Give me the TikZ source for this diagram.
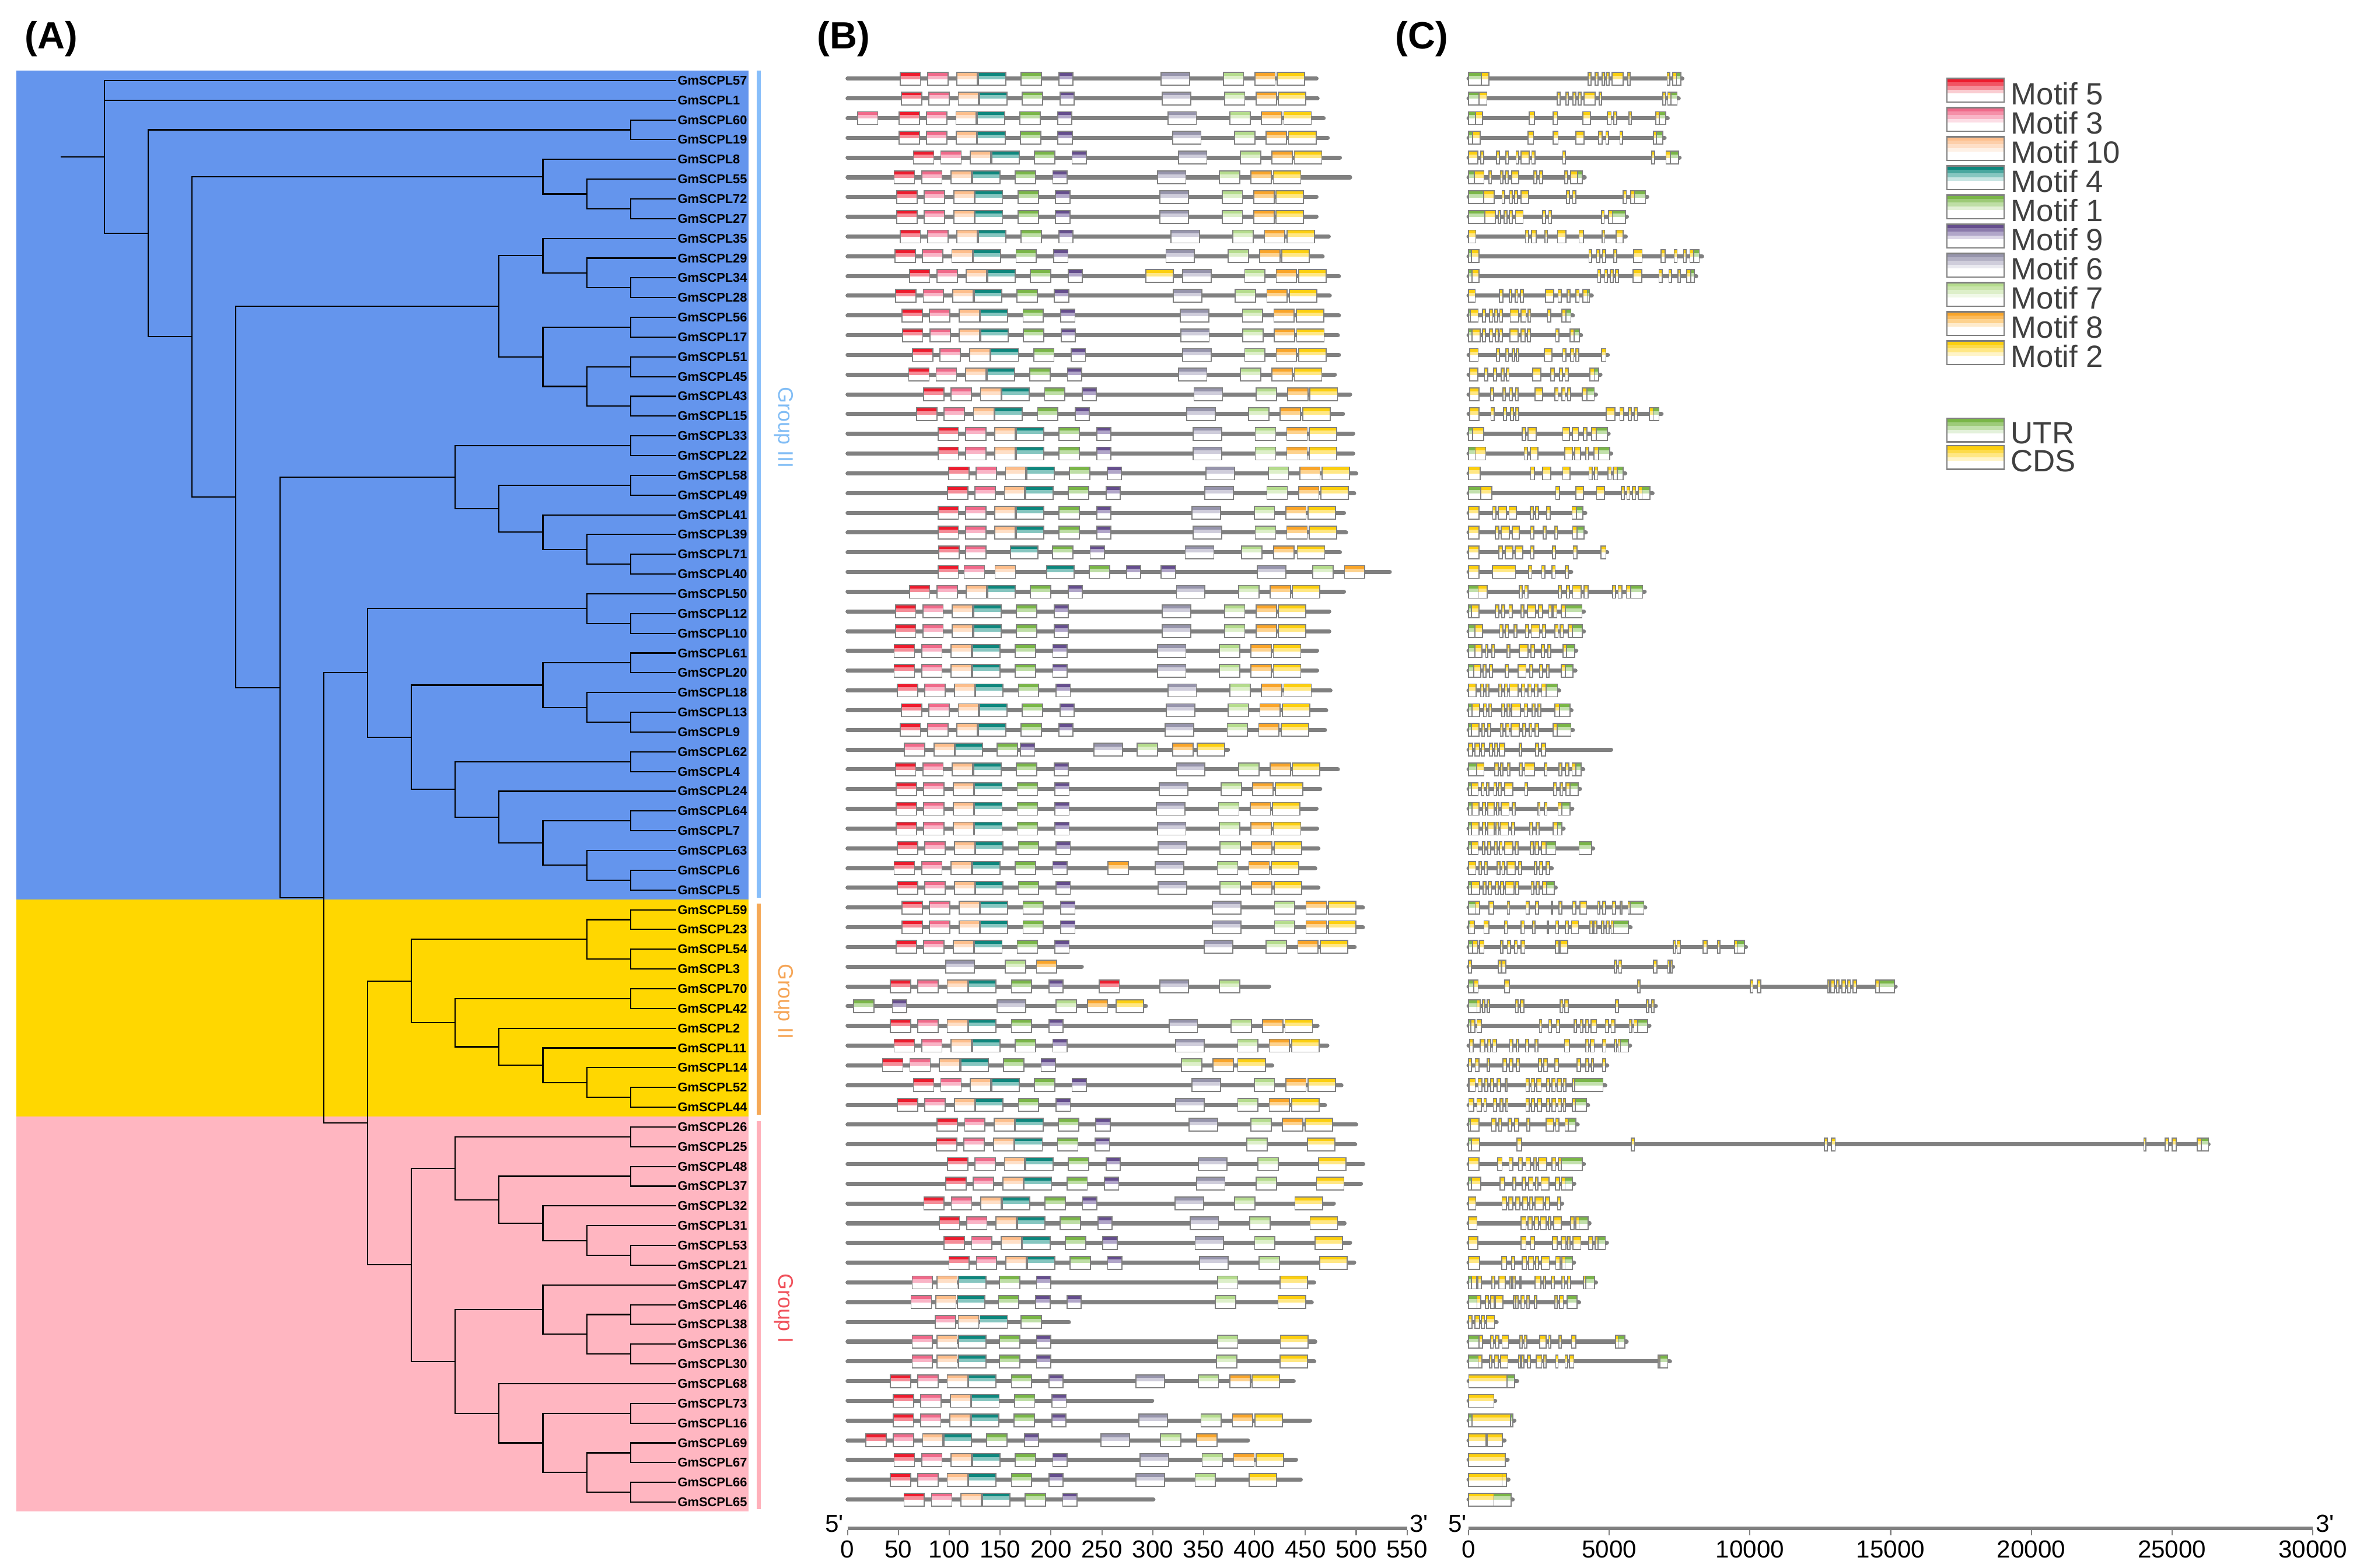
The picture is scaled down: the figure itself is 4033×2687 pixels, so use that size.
\documentclass[tikz,border=0pt]{standalone}
\usepackage{fontspec}
\setmainfont{Liberation Sans}
\setsansfont{Liberation Sans}
\usetikzlibrary{positioning}

\definecolor{cladeblue}{HTML}{6495ED}
\definecolor{cladegold}{HTML}{FFD700}
\definecolor{cladepink}{HTML}{FFB6C1}
\definecolor{barIII}{HTML}{87BEFA}
\definecolor{barII}{HTML}{F5A957}
\definecolor{barI}{HTML}{FFB0BA}
\definecolor{txtIII}{HTML}{80BCF5}
\definecolor{txtII}{HTML}{F5A455}
\definecolor{txtI}{HTML}{F0505A}
\definecolor{strand}{HTML}{808080}
\definecolor{legtext}{HTML}{404040}
% motif colours: a = top band, b = middle band
\definecolor{m5a}{HTML}{ED1C2E}\definecolor{m5b}{HTML}{F58D98}
\definecolor{m3a}{HTML}{F06A8A}\definecolor{m3b}{HTML}{F9B4C6}
\definecolor{m10a}{HTML}{FDBE8C}\definecolor{m10b}{HTML}{FEDFC7}
\definecolor{m4a}{HTML}{0E877D}\definecolor{m4b}{HTML}{86C6C0}
\definecolor{m1a}{HTML}{7AB648}\definecolor{m1b}{HTML}{BEDEA6}
\definecolor{m9a}{HTML}{654E8D}\definecolor{m9b}{HTML}{B1A6C9}
\definecolor{m6a}{HTML}{9795AC}\definecolor{m6b}{HTML}{CFCDDB}
\definecolor{m7a}{HTML}{B5DC8D}\definecolor{m7b}{HTML}{DDEFC9}
\definecolor{m8a}{HTML}{F9A52A}\definecolor{m8b}{HTML}{FDD28E}
\definecolor{m2a}{HTML}{FCCF10}\definecolor{m2b}{HTML}{FFE784}
\definecolor{ua}{HTML}{7AB648}\definecolor{ub}{HTML}{C2E0AC}
\definecolor{ca}{HTML}{FCCF10}\definecolor{cb}{HTML}{FFE784}

\pgfkeys{/mw/.cd,5/.initial=20,3/.initial=20,10/.initial=20,4/.initial=27,1/.initial=20,
  9/.initial=14,6/.initial=28,7/.initial=20,8/.initial=20,2/.initial=27}

\tikzset{
  branch/.style={line width=0.6pt},
  gene/.style={anchor=west,inner sep=0.6pt,font=\fontsize{6.2}{7}\selectfont\bfseries},
  pline/.style={strand,line width=2pt,line cap=round},
  mframe/.style={strand,line width=0.5pt},
  axline/.style={strand,line width=1.7pt},
  tick/.style={strand,line width=0.6pt},
  axlab/.style={font=\fontsize{12}{14}\selectfont},
  panel/.style={font=\fontsize{18.5}{20}\selectfont\bfseries},
  legtxt/.style={anchor=west,inner sep=0pt,text=legtext,font=\fontsize{15}{17}\selectfont},
  grp/.style={rotate=-90,font=\fontsize{10.2}{12}\selectfont}
}

% one motif box: start, motif number
\newcommand{\mot}[2]{%
  \fill[white] (#1,\ry-11) rectangle ++(\pgfkeysvalueof{/mw/#2},22);
  \fill[m#2a] (#1,\ry-11) rectangle ++(\pgfkeysvalueof{/mw/#2},5.7);
  \fill[m#2b] (#1,\ry-5.3) rectangle ++(\pgfkeysvalueof{/mw/#2},6);
  \draw[mframe] (#1,\ry-11) rectangle ++(\pgfkeysvalueof{/mw/#2},22);}
\newcommand{\nblk}[1]{\mot{#1}{5}\mot{#1+27}{3}\mot{#1+56}{10}\mot{#1+77}{4}\mot{#1+119}{1}\mot{#1+156}{9}}
\newcommand{\cblk}[1]{\mot{#1}{6}\mot{#1+61}{7}\mot{#1+92}{8}\mot{#1+114}{2}}
\newcommand{\dblk}[1]{\mot{#1}{6}\mot{#1+58.5}{7}\mot{#1+118}{2}}
\newcommand{\prot}[3]{\pgfmathsetmacro{\ry}{101+33.83*#1}\draw[pline] (0,\ry) -- (#2,\ry);#3}
% gene structure: row, length (kb), list of type/start/end
\newcommand{\exon}[3]{%
  \fill[white] (#2,\ry-11) rectangle (#3,\ry+11);
  \fill[#1a] (#2,\ry-11) rectangle (#3,\ry-5.3);
  \fill[#1b] (#2,\ry-5.3) rectangle (#3,\ry+0.7);
  \draw[mframe] (#2,\ry-11) rectangle (#3,\ry+11);}
\newcommand{\gene}[3]{\pgfmathsetmacro{\ry}{101+33.83*#1}\draw[pline] (0,\ry) -- (#2,\ry);
  \foreach \typ/\ea/\eb in {#3}{\exon{\typ}{\ea}{\eb}}}
\newcommand{\legbox}[2]{\pgfmathsetmacro{\ly}{#1}
  \fill[white] (3337,\ly) rectangle (3435,\ly+40.6);
  \fill[#2a] (3337,\ly) rectangle (3435,\ly+6.5);
  \fill[#2a!50!#2b] (3337,\ly+6.5) rectangle (3435,\ly+13);
  \fill[#2b] (3337,\ly+13) rectangle (3435,\ly+19.5);
  \fill[#2b!45!white] (3337,\ly+19.5) rectangle (3435,\ly+26);
  \draw[mframe,line width=0.7pt] (3337,\ly) rectangle (3435,\ly+40.6);}

\begin{document}
\begin{tikzpicture}[x=0.01cm,y=-0.01cm]
\useasboundingbox (0,0) rectangle (4033,2687);

\node[panel] (pA) at (88,67) {(A)};
\node[panel] (pB) at (1446,67) {(B)};
\node[panel] (pC) at (2437,67) {(C)};

% clade backgrounds and group bars
\fill[cladeblue] (28,121) rectangle (1283,1541.8);
\fill[cladegold] (28,1541.8) rectangle (1283,1914);
\fill[cladepink] (28,1914) rectangle (1283,2590.5);
\fill[barIII] (1297,121) rectangle (1304,1539);
\fill[barII] (1297,1549) rectangle (1304,1911);
\fill[barI] (1297,1922) rectangle (1304,2587);
\node[grp,text=txtIII] (gIII) at (1343,733) {Group III};
\node[grp,text=txtII] (gII) at (1343,1717) {Group II};
\node[grp,text=txtI] (gI) at (1343,2243) {Group I};

% tree
\begin{scope}[shift={(179,104)},x=0.751cm,y=-0.3383cm]
\foreach \g [count=\i] in {57,1,60,19,8,55,72,27,35,29,34,28,56,17,51,45,43,15,33,22,58,49,41,39,71,40,50,12,10,61,20,18,13,9,62,4,24,64,7,63,6,5,59,23,54,3,70,42,2,11,14,52,44,26,25,48,37,32,31,53,21,47,46,38,36,30,68,73,16,69,67,66,65}
  \node[gene] (g\g) at (13.04,\i) {GmSCPL\g};
\foreach \n/\l/\r in {a0/0/4.87,a1/1/8.74,b60/12/3.5,a2/2/13.98,b8/10/5.875,b55/11/6.75,b72/12/7.5,
  a3/3/22.09,b35/9/12.44,c35/10/9.875,c29/11/10.75,c34/12/11.5,c56/10/15,c56b/12/13.5,c51/11/16.5,
  c51b/12/15.5,c43/12/17.5,a4/4/31.75,b33/8/21.09,c33/12/19.5,c58/9/22.69,c58b/12/21.5,c41/10/23.875,
  c39/11/24.75,c71/12/25.5,a5/5/42.4,a6/6/31.0,a7/6/53.8,b50/11/27.75,c12/12/28.5,b61/7/34.27,
  c61/10/31.625,d61/12/30.5,d18/11/32.75,d13/12/33.5,c62/8/36.9,d62/12/35.5,d24/9/38.31,d64/10/39.625,
  e64/12/38.5,e63/11/40.75,e6/12/41.5,b59/7/46.61,c59/11/44.5,d59/12/43.5,d54/12/45.5,c70/8/48.72,
  d70/12/47.5,d2/9/49.94,d11/10/50.875,d14/11/51.75,d52/12/52.5,b26/7/60.98,c26/8/56.09,d26/12/54.5,
  d48/9/57.69,e48/12/56.5,e32/10/58.875,e31/11/59.75,e53/12/60.5,c47/8/65.875,d47/10/63.25,
  e46/11/64.5,f46/12/63.5,f36/12/65.5,d68/9/68.5,e73/10/70,f73/12/68.5,f69/11/71.5,h69/12/70.5,h66/12/72.5}
  \coordinate (\n) at (\l,\r);
\coordinate (stub) at (-1,4.87);
\draw[branch] (stub) -- (a0);
\foreach \p/\kids in {a0/{g57,g1,a1},a1/{b60,a2},b60/{g60,g19},a2/{b8,a3},b8/{g8,b55},b55/{g55,b72},
  b72/{g72,g27},a3/{b35,a4},b35/{c35,c56},c35/{g35,c29},c29/{g29,c34},c34/{g34,g28},c56/{c56b,c51},
  c56b/{g56,g17},c51/{c51b,c43},c51b/{g51,g45},c43/{g43,g15},a4/{b33,a5},b33/{c33,c58},c33/{g33,g22},
  c58/{c58b,c41},c58b/{g58,g49},c41/{g41,c39},c39/{g39,c71},c71/{g71,g40},a5/{a6,a7},a6/{b50,b61},
  b50/{g50,c12},c12/{g12,g10},b61/{c61,c62},c61/{d61,d18},d61/{g61,g20},d18/{g18,d13},d13/{g13,g9},
  c62/{d62,d24},d62/{g62,g4},d24/{g24,d64},d64/{e64,e63},e64/{g64,g7},e63/{g63,e6},e6/{g6,g5},
  a7/{b59,b26},b59/{c59,c70},c59/{d59,d54},d59/{g59,g23},d54/{g54,g3},c70/{d70,d2},d70/{g70,g42},
  d2/{g2,d11},d11/{g11,d14},d14/{g14,d52},d52/{g52,g44},b26/{c26,c47},c26/{d26,d48},d26/{g26,g25},
  d48/{e48,e32},e48/{g48,g37},e32/{g32,e31},e31/{g31,e53},e53/{g53,g21},c47/{d47,d68},d47/{g47,e46},
  e46/{f46,f36},f46/{g46,g38},f36/{g36,g30},d68/{g68,e73},e73/{f73,f69},f73/{g73,g16},f69/{h69,h66},
  h69/{g69,g67},h66/{g66,g65}}
  \foreach \c in \kids \draw[branch] (\p) |- (\c);
\end{scope}

% motifs
\begin{scope}[shift={(1452.7,0)},x=0.017426cm]
\prot{1}{461}{\nblk{51.6}\cblk{308.3}}
\prot{2}{462}{\nblk{52.8}\cblk{309.5}}
\prot{3}{468}{\mot{9.7}{3}\nblk{50.5}\cblk{314.9}}
\prot{4}{472}{\nblk{50.8}\cblk{319.5}}
\prot{5}{484}{\nblk{64.7}\cblk{325.2}}
\prot{6}{494}{\nblk{45.8}\cblk{304.5}}
\prot{7}{461}{\nblk{48.5}\cblk{307.2}}
\prot{8}{461}{\nblk{48.5}\cblk{307.2}}
\prot{9}{473}{\nblk{51.6}\cblk{317.9}}
\prot{10}{467}{\nblk{46.6}\cblk{313}}
\prot{11}{483}{\nblk{60.8}\mot{293.3}{2}\cblk{329.4}}
\prot{12}{474}{\nblk{47.4}\cblk{320.2}}
\prot{13}{483}{\nblk{53.5}\cblk{327.1}}
\prot{14}{482}{\nblk{53.9}\cblk{327.5}}
\prot{15}{483}{\nblk{63.9}\cblk{329.4}}
\prot{16}{479}{\nblk{60.1}\cblk{325.2}}
\prot{17}{494}{\nblk{74.7}\cblk{340.6}}
\prot{18}{487}{\nblk{67.8}\cblk{333.3}}
\prot{19}{497}{\nblk{88.9}\cblk{339.8}}
\prot{20}{497}{\nblk{88.9}\cblk{339.8}}
\prot{21}{500}{\nblk{99.3}\cblk{352.5}}
\prot{22}{498}{\nblk{98.1}\cblk{351.3}}
\prot{23}{488}{\nblk{88.9}\cblk{338.7}}
\prot{24}{490}{\nblk{88.9}\cblk{339.8}}
\prot{25}{484}{\mot{89.7}{5}\mot{116}{3}\mot{160}{4}\mot{201.5}{1}\mot{238.4}{9}\mot{332}{6}\mot{387.5}{7}\mot{419}{8}\mot{442}{2}}
\prot{26}{533}{\mot{88.9}{5}\mot{114.6}{3}\mot{145}{10}\mot{195.7}{4}\mot{237.6}{1}\mot{274.1}{9}\mot{308.3}{9}\mot{402.8}{6}\mot{457.4}{7}\mot{488.5}{8}}
\prot{27}{488}{\nblk{60.8}\cblk{323.3}}
\prot{28}{473.5}{\nblk{47}\cblk{309.5}}
\prot{29}{473.5}{\nblk{47}\cblk{309.5}}
\prot{30}{461.6}{\nblk{45.8}\cblk{304.5}}
\prot{31}{461.6}{\nblk{45.8}\cblk{304.5}}
\prot{32}{474.7}{\nblk{48.9}\cblk{314.9}}
\prot{33}{470.5}{\nblk{52.8}\cblk{313.3}}
\prot{34}{469.3}{\nblk{51.6}\cblk{312.2}}
\prot{35}{374}{\mot{55.8}{3}\mot{85}{10}\mot{105.8}{4}\mot{146.9}{1}\mot{170}{9}\mot{242.2}{6}\mot{284.5}{7}\mot{319.5}{8}\mot{343.7}{2}}
\prot{36}{482}{\nblk{47}\cblk{323.3}}
\prot{37}{464.7}{\nblk{47.8}\cblk{306.4}}
\prot{38}{461}{\nblk{47.8}\cblk{303.7}}
\prot{39}{461.6}{\nblk{47.8}\cblk{304.5}}
\prot{40}{462.8}{\nblk{48.9}\cblk{305.2}}
\prot{41}{459.7}{\nblk{45.8}\mot{256}{8}\cblk{302.5}}
\prot{42}{462.8}{\nblk{48.9}\cblk{305.2}}
\prot{43}{506.6}{\nblk{53.5}\cblk{358.7}}
\prot{44}{506.6}{\nblk{53.5}\cblk{358.7}}
\prot{45}{498.5}{\nblk{47.8}\cblk{350.6}}
\prot{46}{230.3}{\mot{96.6}{6}\mot{155}{7}\mot{185.7}{8}}
\prot{47}{414.4}{\nblk{42}\mot{247.2}{5}\mot{307.2}{6}\mot{365.6}{7}}
\prot{48}{293.3}{\mot{5.9}{1}\mot{44}{9}\mot{147}{6}\mot{205}{7}\mot{235.7}{8}\mot{264.1}{2}}
\prot{49}{462}{\nblk{42}\cblk{316}}
\prot{50}{471.6}{\nblk{45.8}\cblk{322.5}}
\prot{51}{417.4}{\nblk{34.3}\mot{328.3}{7}\mot{359.4}{8}\mot{383.6}{2}}
\prot{52}{485.5}{\nblk{64.7}\cblk{338.7}}
\prot{53}{469.3}{\nblk{48.9}\cblk{322.5}}
\prot{54}{500}{\nblk{88.1}\cblk{335.6}}
\prot{55}{499}{\nblk{87.4}\mot{392.5}{7}\mot{452}{2}}
\prot{56}{507}{\nblk{98.1}\dblk{344.8}}
\prot{57}{504.7}{\nblk{96.6}\dblk{343}}
\prot{58}{478}{\nblk{75}\dblk{321.8}}
\prot{59}{488.5}{\nblk{90}\dblk{336.7}}
\prot{60}{494}{\nblk{95}\dblk{341.7}}
\prot{61}{498}{\nblk{99.6}\dblk{346}}
\prot{62}{458.6}{\mot{63.5}{3}\mot{87.7}{10}\mot{109.2}{4}\mot{149.2}{1}\mot{185.7}{9}\mot{363.6}{7}\mot{425}{2}}
\prot{63}{456.3}{\mot{62.4}{3}\mot{86.6}{10}\mot{108}{4}\mot{148.4}{1}\mot{185}{9}\mot{215.7}{9}\mot{361.7}{7}\mot{423.2}{2}}
\prot{64}{217.6}{\mot{86.2}{3}\mot{108.9}{10}\mot{130}{4}\mot{170.4}{1}}
\prot{65}{459.7}{\mot{63.5}{3}\mot{87.7}{10}\mot{109.2}{4}\mot{149.2}{1}\mot{185.7}{9}\mot{363.6}{7}\mot{425.5}{2}}
\prot{66}{458.8}{\mot{63.5}{3}\mot{87.7}{10}\mot{109.2}{4}\mot{149.2}{1}\mot{185.7}{9}\mot{362.5}{7}\mot{425}{2}}
\prot{67}{438.6}{\nblk{42}\cblk{283.7}}
\prot{68}{299.5}{\nblk{45}}
\prot{69}{454.7}{\nblk{44.7}\cblk{286.4}}
\prot{70}{393.6}{\nblk{17.8}\mot{249.1}{6}\mot{307.5}{7}\mot{343.3}{8}}
\prot{71}{440.9}{\nblk{45.8}\cblk{287.6}}
\prot{72}{445.5}{\nblk{42}\mot{283.7}{6}\mot{341.7}{7}\mot{394.8}{2}}
\prot{73}{300.6}{\nblk{55.5}}
\draw[axline] (0,2620) -- (550,2620);
\foreach \t in {0,50,...,550}{
  \draw[tick] (\t,2623) -- (\t,2632);
  \node[axlab] at (\t,2656) {\t};}
\end{scope}
\node[axlab] (b5) at (1430,2612) {5\textquotesingle};
\node[axlab] (b3) at (2432,2612) {3\textquotesingle};

% gene structures
\begin{scope}[shift={(2517,0)},x=0.482cm]
\gene{1}{7.6}{u/0/0.45,c/0.45/0.72,c/4.25/4.35,c/4.5/4.6,c/4.75/4.83,c/4.9/5.0,c/5.1/5.5,c/5.66/5.74,c/7.06/7.16,c/7.25/7.39,u/7.39/7.55}
\gene{2}{7.47}{u/0/0.37,c/0.37/0.65,c/3.15/3.25,c/3.46/3.55,c/3.71/3.82,c/3.9/4.0,c/4.1/4.5,c/4.64/4.73,c/6.9/7.0,c/7.08/7.2,u/7.2/7.41}
\gene{3}{7.08}{u/0/0.25,c/0.25/0.5,c/2.15/2.34,c/3.0/3.16,c/4.07/4.33,c/4.94/5.07,c/5.17/5.26,c/5.7/5.78,c/6.66/6.78,u/6.78/7.0}
\gene{4}{6.97}{u/0/0.15,c/0.15/0.41,c/2.12/2.31,c/3.0/3.18,c/3.81/4.1,c/4.62/4.75,c/4.88/4.98,c/5.38/5.48,c/6.57/6.68,u/6.68/6.91}
\gene{5}{7.5}{c/0/0.33,c/0.44/0.54,c/1.0/1.1,c/1.33/1.42,c/1.69/1.79,c/1.87/2.15,c/2.25/2.36,c/3.35/3.44,c/6.51/6.61,c/7.02/7.17,u/7.17/7.46}
\gene{6}{4.13}{u/0/0.2,c/0.2/0.55,c/0.72/0.82,c/1.13/1.22,c/1.31/1.41,c/1.53/1.78,c/2.32/2.42,c/2.52/2.63,c/3.42/3.52,c/3.63/3.87,u/3.87/4.05}
\gene{7}{6.35}{u/0/0.54,c/0.54/0.91,c/1.19/1.29,c/1.46/1.56,c/1.64/1.74,c/1.86/2.13,c/3.49/3.59,c/3.7/3.81,c/5.5/5.61,c/5.76/5.9,u/5.9/6.29}
\gene{8}{5.63}{u/0/0.58,c/0.58/0.95,c/1.05/1.14,c/1.27/1.36,c/1.45/1.55,c/1.67/1.94,c/2.64/2.74,c/2.85/2.95,c/4.72/4.82,c/4.98/5.11,u/5.11/5.57}
\gene{9}{5.59}{c/0/0.26,c/2.02/2.13,c/2.24/2.41,c/2.71/2.8,c/3.16/3.46,c/3.93/4.09,c/4.75/4.84,c/5.25/5.5}
\gene{10}{8.3}{u/0/0.11,c/0.11/0.37,c/4.28/4.38,c/4.55/4.66,c/4.76/4.87,c/5.17/5.27,c/5.87/6.17,c/6.84/6.99,c/7.31/7.41,c/7.64/7.74,c/7.87/8.0,u/8.0/8.2}
\gene{11}{8.09}{u/0/0.12,c/0.12/0.37,c/4.59/4.69,c/4.84/4.93,c/5.04/5.14,c/5.23/5.33,c/5.84/6.15,c/6.77/6.89,c/7.12/7.22,c/7.44/7.53,c/7.76/7.9,u/7.9/8.02}
\gene{12}{4.38}{c/0/0.24,c/1.1/1.22,c/1.45/1.53,c/1.66/1.75,c/1.85/1.95,c/2.73/3.03,c/3.18/3.29,c/3.5/3.6,c/3.82/3.93,c/4.06/4.22,u/4.22/4.3}
\gene{13}{3.71}{u/0/0.06,c/0.06/0.34,c/0.49/0.6,c/0.75/0.86,c/0.94/1.03,c/1.11/1.2,c/1.48/1.78,c/1.87/2.04,c/2.12/2.21,c/2.81/2.92,c/3.31/3.46,u/3.46/3.64}
\gene{14}{4.0}{u/0/0.13,c/0.13/0.41,c/0.49/0.6,c/0.75/0.86,c/0.96/1.06,c/1.11/1.2,c/1.47/1.76,c/1.86/2.01,c/2.09/2.19,c/3.1/3.21,c/3.6/3.76,u/3.76/3.94}
\gene{15}{4.95}{c/0.04/0.34,c/1.0/1.1,c/1.33/1.42,c/1.55/1.64,c/1.7/1.79,c/2.69/2.96,c/3.35/3.46,c/3.63/3.74,c/3.82/3.92,c/4.73/4.88}
\gene{16}{4.69}{c/0.04/0.33,c/0.57/0.68,c/0.89/1.0,c/1.16/1.27,c/1.34/1.44,c/2.28/2.57,c/2.93/3.05,c/3.24/3.33,c/3.43/3.54,c/4.31/4.47,u/4.47/4.62}
\gene{17}{4.53}{c/0.04/0.37,c/0.78/0.89,c/1.22/1.31,c/1.46/1.56,c/1.67/1.76,c/2.36/2.64,c/3.07/3.18,c/3.32/3.43,c/3.53/3.63,c/4.05/4.21,u/4.21/4.47}
\gene{18}{6.86}{c/0.04/0.37,c/0.8/0.91,c/1.25/1.35,c/1.5/1.59,c/1.68/1.78,c/4.89/5.2,c/5.38/5.51,c/5.68/5.78,c/5.89/6.0,c/6.43/6.56,u/6.56/6.77}
\gene{19}{4.98}{u/0/0.15,c/0.15/0.54,c/1.91/2.03,c/2.12/2.4,c/3.35/3.59,c/3.69/3.91,c/4.09/4.21,c/4.38/4.54,u/4.54/4.93}
\gene{20}{5.07}{u/0/0.24,c/0.24/0.61,c/1.98/2.1,c/2.19/2.47,c/3.42/3.69,c/3.77/3.98,c/4.16/4.27,c/4.45/4.62,u/4.62/5.01}
\gene{21}{5.57}{c/0/0.41,c/2.21/2.34,c/2.63/2.92,c/3.35/3.61,c/4.28/4.39,c/4.48/4.59,c/4.95/5.07,c/5.14/5.28,u/5.28/5.5}
\gene{22}{6.54}{u/0/0.44,c/0.44/0.83,c/3.1/3.23,c/3.82/4.09,c/4.55/4.83,c/5.43/5.54,c/5.63/5.73,c/5.83/5.94,c/6.03/6.17,u/6.17/6.45}
\gene{23}{4.15}{c/0/0.38,c/0.86/0.97,c/1.06/1.34,c/1.44/1.7,c/2.19/2.3,c/2.38/2.49,c/2.77/2.9,c/3.68/3.83,u/3.83/4.06}
\gene{24}{4.17}{c/0/0.38,c/0.96/1.07,c/1.16/1.45,c/1.55/1.8,c/2.21/2.32,c/2.65/2.76,c/3.07/3.16,c/3.7/3.86,u/3.86/4.1}
\gene{25}{4.93}{c/0/0.37,c/1.08/1.2,c/1.3/1.58,c/1.66/1.92,c/2.21/2.32,c/2.98/3.09,c/3.72/3.85,c/4.7/4.88}
\gene{26}{3.65}{c/0/0.37,c/0.85/1.67,c/2.14/2.25,c/2.6/2.71,c/2.97/3.08,c/3.44/3.55}
\gene{27}{6.26}{u/0/0.34,c/0.34/0.66,c/1.8/1.91,c/2.0/2.12,c/3.2/3.3,c/3.48/3.58,c/3.7/4.0,c/4.1/4.25,c/5.12/5.23,c/5.32/5.45,c/5.61/5.77,u/5.77/6.19}
\gene{28}{4.1}{u/0/0.11,c/0.11/0.37,c/0.96/1.08,c/1.18/1.29,c/1.44/1.55,c/1.86/1.97,c/2.1/2.39,c/2.48/2.63,c/2.85/2.96,c/3.0/3.14,c/3.29/3.44,u/3.44/4.03}
\gene{29}{4.1}{u/0/0.23,c/0.23/0.49,c/1.11/1.22,c/1.31/1.42,c/1.61/1.72,c/2.02/2.13,c/2.23/2.52,c/2.62/2.74,c/3.07/3.18,c/3.26/3.37,c/3.54/3.69,u/3.69/4.04}
\gene{30}{3.83}{u/0/0.23,c/0.23/0.47,c/0.61/0.69,c/0.83/0.92,c/1.36/1.47,c/1.81/2.11,c/2.22/2.35,c/2.59/2.69,c/2.82/2.92,c/3.36/3.49,u/3.49/3.78}
\gene{31}{3.8}{u/0/0.18,c/0.18/0.43,c/0.52/0.62,c/0.75/0.85,c/1.31/1.42,c/1.76/2.04,c/2.17/2.28,c/2.53/2.63,c/2.77/2.86,c/3.3/3.44,u/3.44/3.71}
\gene{32}{3.22}{c/0/0.27,c/0.44/0.54,c/0.62/0.72,c/1.08/1.18,c/1.28/1.38,c/1.46/1.76,c/1.88/2.0,c/2.12/2.23,c/2.35/2.46,c/2.6/2.76,u/2.76/3.16}
\gene{33}{3.66}{u/0/0.12,c/0.12/0.4,c/0.54/0.63,c/0.72/0.82,c/1.18/1.28,c/1.37/1.47,c/1.53/1.84,c/1.98/2.09,c/2.26/2.36,c/2.46/2.57,c/3.07/3.23,u/3.23/3.61}
\gene{34}{3.71}{u/0/0.11,c/0.11/0.38,c/0.47/0.57,c/0.68/0.78,c/1.13/1.23,c/1.33/1.44,c/1.51/1.81,c/1.92/2.03,c/2.15/2.25,c/2.37/2.48,c/3.0/3.15,u/3.15/3.64}
\gene{35}{5.07}{c/0/0.14,c/0.23/0.39,c/0.46/0.57,c/0.74/0.85,c/0.94/1.03,c/1.1/1.29,c/1.8/1.89,c/2.39/2.49,c/2.59/2.73}
\gene{36}{4.08}{u/0/0.29,c/0.29/0.55,c/0.94/1.05,c/1.14/1.23,c/1.38/1.47,c/1.81/1.91,c/2.0/2.35,c/2.69/2.79,c/3.22/3.32,c/3.44/3.57,c/3.68/3.82,u/3.82/4.0}
\gene{37}{3.96}{u/0/0.1,c/0.1/0.34,c/0.45/0.55,c/0.64/0.73,c/0.9/1.0,c/1.06/1.16,c/1.28/1.58,c/2.0/2.1,c/3.02/3.12,c/3.25/3.35,c/3.46/3.6,u/3.6/3.89}
\gene{38}{3.69}{u/0/0.12,c/0.12/0.37,c/0.5/0.6,c/0.69/0.91,c/0.99/1.08,c/1.16/1.44,c/1.55/1.66,c/2.47/2.54,c/2.69/2.79,c/3.18/3.32,u/3.32/3.61}
\gene{39}{3.38}{u/0/0.11,c/0.11/0.37,c/0.5/0.6,c/0.69/0.91,c/0.97/1.07,c/1.13/1.42,c/1.53/1.63,c/2.18/2.28,c/2.4/2.51,c/3.0/3.16,u/3.16/3.32}
\gene{40}{4.43}{u/0/0.1,c/0.1/0.34,c/0.49/0.58,c/0.69/0.79,c/0.92/1.02,c/1.1/1.19,c/1.28/1.57,c/1.66/1.76,c/2.2/2.3,c/2.37/2.48,c/2.59/2.76,u/2.76/3.1,u/3.93/4.37}
\gene{41}{2.96}{c/0/0.26,c/0.37/0.46,c/0.57/0.67,c/1.02/1.12,c/1.19/1.29,c/1.36/1.66,c/1.78/1.89,c/2.34/2.43,c/2.52/2.63,c/2.75/2.88}
\gene{42}{3.1}{u/0/0.11,c/0.11/0.39,c/0.52/0.62,c/0.71/0.82,c/0.96/1.06,c/1.14/1.24,c/1.31/1.61,c/1.67/1.78,c/2.23/2.32,c/2.41/2.51,c/2.63/2.77,u/2.77/3.04}
\gene{43}{6.28}{u/0/0.24,c/0.24/0.39,c/0.72/0.89,c/1.38/1.46,c/2.04/2.15,c/2.39/2.48,c/2.95/2.99,c/3.21/3.31,c/3.7/3.82,c/3.96/4.2,c/4.59/4.67,c/4.77/4.87,c/5.11/5.23,c/5.39/5.46,c/5.67/5.74,u/5.74/6.23}
\gene{44}{5.76}{u/0/0.05,c/0.05/0.21,c/0.55/0.72,c/1.28/1.38,c/1.86/1.98,c/2.28/2.37,c/2.8/2.84,c/3.1/3.2,c/3.44/3.55,c/3.66/3.91,c/4.32/4.41,c/4.45/4.56,c/4.72/4.81,c/4.9/5.0,c/5.07/5.15,u/5.15/5.68}
\gene{45}{9.86}{u/0/0.15,c/0.15/0.33,c/0.39/0.55,c/1.14/1.23,c/1.38/1.5,c/1.63/1.73,c/1.87/2.0,c/3.09/3.21,c/3.26/3.53,c/7.27/7.35,c/7.41/7.52,c/8.34/8.48,c/8.85/8.93,c/9.46/9.55,u/9.55/9.8}
\gene{46}{7.27}{c/0/0.11,c/1.06/1.16,c/1.19/1.33,c/5.18/5.26,c/5.34/5.44,c/6.57/6.69,c/7.08/7.14,c/7.18/7.24}
\gene{47}{15.18}{u/0/0.19,c/0.19/0.34,c/1.29/1.45,c/6.01/6.09,c/10.02/10.11,c/10.26/10.38,c/12.77/12.84,c/12.88/13.0,c/13.08/13.17,c/13.27/13.39,c/13.48/13.57,c/13.67/13.79,c/14.48/14.6,u/14.6/15.13}
\gene{48}{6.66}{u/0/0.3,c/0.3/0.41,c/0.49/0.58,c/0.66/0.75,c/1.67/1.76,c/1.84/1.97,c/3.25/3.35,c/3.42/3.54,c/5.23/5.33,c/6.32/6.41,c/6.51/6.6}
\gene{49}{6.43}{u/0/0.09,c/0.09/0.22,c/0.3/0.46,c/2.52/2.6,c/2.85/2.95,c/3.12/3.24,c/3.76/3.83,c/3.97/4.06,c/4.16/4.26,c/4.36/4.55,c/4.86/4.98,c/5.07/5.2,c/5.71/5.8,c/5.88/6.01,u/6.01/6.36}
\gene{50}{5.74}{c/0.04/0.17,c/0.41/0.58,c/0.69/0.79,c/0.86/1.0,c/1.46/1.58,c/1.7/1.79,c/2.03/2.14,c/2.36/2.47,c/3.41/3.58,c/4.17/4.26,c/4.34/4.47,c/4.76/4.88,c/5.18/5.27,c/5.32/5.4,u/5.4/5.68}
\gene{51}{4.93}{c/0/0.11,c/0.24/0.37,c/0.66/0.74,c/1.22/1.35,c/1.45/1.58,c/1.7/1.8,c/2.48/2.59,c/2.68/2.8,c/3.07/3.2,c/3.85/3.98,c/4.16/4.27,c/4.38/4.44,c/4.76/4.87}
\gene{52}{4.86}{u/0/0.03,c/0.03/0.24,c/0.34/0.47,c/0.58/0.69,c/0.78/0.89,c/1.02/1.14,c/1.3/1.36,c/2.04/2.15,c/2.23/2.34,c/2.42/2.58,c/2.77/2.88,c/2.96/3.08,c/3.15/3.3,c/3.37/3.46,c/3.69/3.77,u/3.77/4.78}
\gene{53}{4.25}{c/0.01/0.18,c/0.3/0.45,c/0.55/0.63,c/0.88/1.0,c/1.12/1.22,c/1.33/1.4,c/2.04/2.15,c/2.24/2.35,c/2.45/2.59,c/2.77/2.88,c/2.96/3.1,c/3.18/3.3,c/3.37/3.44,c/3.69/3.8,u/3.8/4.19}
\gene{54}{3.88}{u/0/0.06,c/0.06/0.37,c/0.82/0.97,c/1.07/1.17,c/1.41/1.53,c/1.63/1.79,c/2.07/2.17,c/2.76/3.02,c/3.1/3.22,c/3.43/3.55,u/3.55/3.81}
\gene{55}{26.3}{u/0/0.11,c/0.11/0.39,c/1.72/1.89,c/5.79/5.9,c/12.64/12.75,c/12.9/13.03,c/24.0/24.08,c/24.75/24.88,c/25.0/25.15,c/25.9/26.05,u/26.05/26.3}
\gene{56}{4.1}{c/0/0.37,c/1.03/1.19,c/1.44/1.57,c/1.79/1.91,c/2.04/2.2,c/2.32/2.4,c/2.48/2.77,c/2.97/3.1,c/3.19/3.3,u/3.3/4.04}
\gene{57}{3.76}{u/0/0.11,c/0.11/0.44,c/1.12/1.29,c/1.57/1.68,c/1.91/2.03,c/2.13/2.29,c/2.39/2.47,c/2.58/2.86,c/3.09/3.23,c/3.3/3.43,u/3.43/3.69}
\gene{58}{3.33}{c/0/0.26,c/1.19/1.35,c/1.43/1.57,c/1.68/1.83,c/1.92/2.09,c/2.17/2.28,c/2.36/2.65,c/2.74/2.88,c/3.16/3.27}
\gene{59}{4.3}{c/0/0.3,c/1.86/2.04,c/2.12/2.26,c/2.34/2.49,c/2.56/2.76,c/2.84/2.92,c/3.02/3.3,c/3.63/3.76,c/3.82/3.93,u/3.93/4.25}
\gene{60}{4.92}{c/0/0.33,c/1.87/2.04,c/2.21/2.35,c/2.99/3.15,c/3.29/3.46,c/3.52/3.61,c/3.71/3.99,c/4.27/4.42,c/4.5/4.6,u/4.6/4.86}
\gene{61}{3.75}{c/0/0.39,c/1.18/1.35,c/1.53/1.63,c/1.91/2.06,c/2.14/2.31,c/2.39/2.48,c/2.59/2.87,c/3.1/3.25,c/3.32/3.43,u/3.43/3.69}
\gene{62}{4.53}{u/0/0.1,c/0.1/0.29,c/0.33/0.45,c/0.83/0.94,c/1.07/1.3,c/1.47/1.53,c/1.58/1.66,c/1.83/1.87,c/2.36/2.57,c/2.67/2.74,c/2.95/3.04,c/3.31/3.41,c/3.52/3.63,c/4.08/4.17,u/4.17/4.48}
\gene{63}{3.93}{u/0/0.3,c/0.3/0.44,c/0.6/0.71,c/0.78/0.91,c/0.96/1.23,c/1.59/1.66,c/1.68/1.76,c/1.87/1.98,c/2.07/2.15,c/2.35/2.42,c/3.07/3.15,c/3.23/3.37,u/3.5/3.86}
\gene{64}{1.0}{c/0/0.12,c/0.23/0.39,c/0.46/0.57,c/0.64/0.92}
\gene{65}{5.62}{u/0/0.37,c/0.37/0.49,c/0.78/0.88,c/0.96/1.07,c/1.19/1.42,c/1.83/1.91,c/1.98/2.07,c/2.53/2.76,c/2.85/2.93,c/3.22/3.3,c/3.66/3.81,c/5.22/5.32,u/5.32/5.56}
\gene{66}{7.16}{u/0/0.34,c/0.34/0.47,c/0.74/0.83,c/0.92/1.05,c/1.14/1.4,c/1.78/1.84,c/1.89/1.97,c/2.09/2.2,c/2.4/2.6,c/2.68/2.76,c/3.1/3.18,c/3.43/3.53,c/3.58/3.74,c/6.74/6.8,u/6.8/7.08}
\gene{67}{1.73}{c/0.01/1.36,u/1.36/1.64}
\gene{68}{0.95}{c/0/0.9}
\gene{69}{1.63}{u/0/0.13,c/0.13/1.5,u/1.5/1.57}
\gene{70}{1.28}{c/0/0.62,c/0.67/1.2}
\gene{71}{1.39}{c/0/1.31}
\gene{72}{1.42}{c/0/1.19,c/1.19/1.35}
\gene{73}{1.57}{c/0/0.9,u/0.9/1.52}
\draw[axline] (0,2620) -- (30,2620);
\foreach \t/\lab in {0/0,5/5000,10/10000,15/15000,20/20000,25/25000,30/30000}{
  \draw[tick] (\t,2623) -- (\t,2632);
  \node[axlab] at (\t,2656) {\lab};}
\end{scope}
\node[axlab] (c5) at (2498,2612) {5\textquotesingle};
\node[axlab] (c3) at (3985,2612) {3\textquotesingle};

% legend
\foreach \m/\lab [count=\k from 0] in {5/Motif 5,3/Motif 3,10/Motif 10,4/Motif 4,1/Motif 1,9/Motif 9,6/Motif 6,7/Motif 7,8/Motif 8,2/Motif 2}{
  \legbox{134.4+50*\k}{m\m}
  \node[legtxt] (key\m) at (3446,160.5+50*\k) {\lab};}
\legbox{717}{u}
\node[legtxt] (keyutr) at (3446,743) {UTR};
\legbox{764}{c}
\node[legtxt] (keycds) at (3446,790) {CDS};
\end{tikzpicture}
\end{document}
